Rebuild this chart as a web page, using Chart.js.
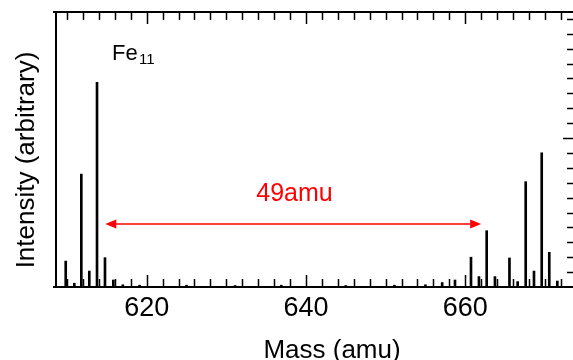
<!DOCTYPE html>
<html>
<head>
<meta charset="utf-8">
<script src="https://cdn.jsdelivr.net/npm/chart.js@4/dist/chart.umd.min.js"></script>
<style>
  html, body { margin: 0; padding: 0; overflow: hidden; background: #fff; }
</style>
</head>
<body>
<canvas id="spec" width="577" height="360"></canvas>
<script>
// peak positions (amu) and heights (arbitrary units)
const masses = [609.83, 610.91, 611.79, 612.79, 613.76, 614.76, 615.81,
  617.0, 619.1, 625.0, 631.1, 636.9, 645.0, 651.1, 655.0, 657.1,
  658.71, 660.72, 661.72, 662.69, 663.73, 665.55, 666.58, 667.59,
  668.63, 669.60, 670.55, 671.56];
const intensity = [1.74, 0.25, 7.58, 1.07, 13.74, 1.97, 0.47,
  0.15, 0.12, 0.12, 0.1, 0.12, 0.1, 0.12, 0.15, 0.3,
  0.47, 2.0, 0.7, 3.78, 0.7, 1.95, 0.36, 7.07,
  1.07, 9.01, 2.33, 0.4];
const xTickLabels = [620, 640, 660];
const xMin = 608.61, xMax = 673.78;
const yMin = 0, yMax = 18.46;

// annotation: 49 amu spacing arrow
const arrowFrom = 614.8, arrowTo = 662.0, arrowLevel = 4.23;
const arrowText = "49amu";

const font = "'Liberation Sans', Arial, sans-serif";

const frameAndTicks = {
  id: "frameAndTicks",
  afterDatasetsDraw(chart) {
    const { ctx, chartArea: a, scales: { x, y } } = chart;
    ctx.save();
    ctx.strokeStyle = "#000";
    ctx.lineWidth = 1.5;
    ctx.beginPath();
    // inward ticks, top and bottom: every 2 amu, long every 20
    for (let m = 610; m <= xMax; m += 2) {
      const px = Math.round(x.getPixelForValue(m)) + 0.5;
      const len = m % 20 === 0 ? 12 : 8;
      ctx.moveTo(px, a.top); ctx.lineTo(px, a.top + len);
      ctx.moveTo(px, a.bottom); ctx.lineTo(px, a.bottom - len);
    }
    // inward ticks, right side
    for (let v = 1; v <= yMax; v += 1) {
      const py = Math.round(y.getPixelForValue(v)) + 0.5;
      const len = v % 10 === 0 ? 12 : 8;
      ctx.moveTo(a.right, py); ctx.lineTo(a.right - len, py);
    }
    ctx.stroke();

    // frame: left, top, bottom
    ctx.lineWidth = 2;
    ctx.beginPath();
    ctx.moveTo(a.left - 3, a.top); ctx.lineTo(a.right, a.top);
    ctx.moveTo(a.left, a.top); ctx.lineTo(a.left, a.bottom);
    ctx.moveTo(a.left - 3, a.bottom); ctx.lineTo(a.right, a.bottom);
    ctx.stroke();

    // arrow
    const x1 = x.getPixelForValue(arrowFrom), x2 = x.getPixelForValue(arrowTo);
    const ay = y.getPixelForValue(arrowLevel);
    ctx.strokeStyle = "#f00";
    ctx.fillStyle = "#f00";
    ctx.lineWidth = 1.5;
    ctx.beginPath();
    ctx.moveTo(x1 + 8, ay); ctx.lineTo(x2 - 8, ay);
    ctx.stroke();
    ctx.beginPath();
    ctx.moveTo(x1, ay); ctx.lineTo(x1 + 11, ay - 4.5); ctx.lineTo(x1 + 11, ay + 4.5); ctx.closePath();
    ctx.moveTo(x2, ay); ctx.lineTo(x2 - 11, ay - 4.5); ctx.lineTo(x2 - 11, ay + 4.5); ctx.closePath();
    ctx.fill();

    ctx.font = "25px " + font;
    ctx.textAlign = "center";
    ctx.textBaseline = "alphabetic";
    ctx.fillText(arrowText, 294.5, 201);

    // labels
    ctx.fillStyle = "#000";
    ctx.textAlign = "left";
    ctx.font = "22px " + font;
    ctx.fillText("Fe", 112, 60);
    ctx.font = "15px " + font;
    ctx.fillText("11", 139, 64);

    ctx.font = "26px " + font;
    ctx.textAlign = "center";
    ctx.fillText("Mass (amu)", 332, 358);
    ctx.translate(34, 160);
    ctx.rotate(-Math.PI / 2);
    ctx.fillText("Intensity (arbitrary)", 0, 0);
    ctx.restore();
  }
};

new Chart(document.getElementById("spec"), {
  type: "bar",
  data: {
    datasets: [{
      data: masses.map((m, i) => ({ x: m, y: intensity[i] })),
      backgroundColor: "#000",
      borderWidth: 0,
      barThickness: 2,
    }],
  },
  options: {
    responsive: false,
    animation: false,
    devicePixelRatio: 1,
    layout: { padding: { top: 12, right: 2, left: 0, bottom: 0 } },
    plugins: { legend: { display: false }, tooltip: { enabled: false } },
    scales: {
      x: {
        type: "linear",
        offset: false,
        min: xMin,
        max: xMax,
        grid: { display: false, drawTicks: false, offset: false },
        border: { display: false },
        ticks: { color: "#000", font: { family: font, size: 27 }, padding: 5 },
        afterBuildTicks: (s) => { s.ticks = xTickLabels.map((v) => ({ value: v })); },
        afterFit: (s) => { s.height = 73; },
      },
      y: {
        min: yMin,
        max: yMax,
        grid: { display: false, drawTicks: false },
        border: { display: false },
        ticks: { display: false },
        afterFit: (s) => { s.width = 56; },
      },
    },
  },
  plugins: [frameAndTicks],
});
</script>
</body>
</html>
